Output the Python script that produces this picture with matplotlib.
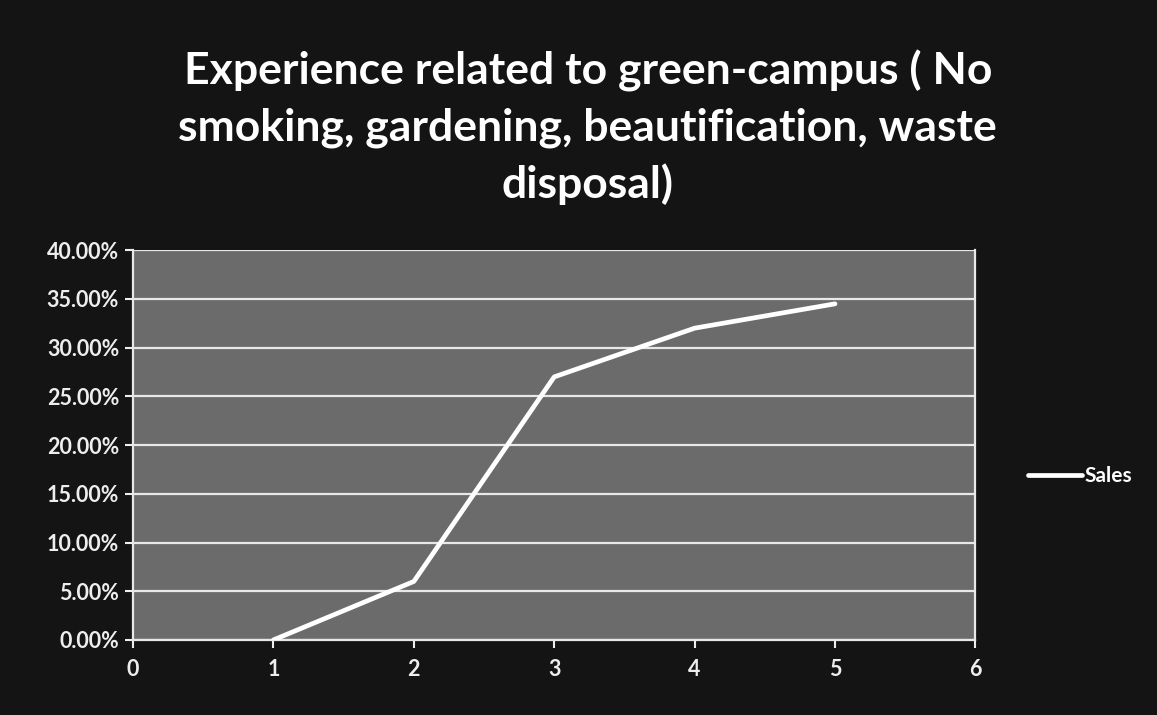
import matplotlib
matplotlib.use("Agg")
import matplotlib.pyplot as plt
from matplotlib.ticker import FuncFormatter

x_values = [1, 2, 3, 4, 5]
sales = [0.0, 0.06, 0.27, 0.32, 0.345]
series_name = "Sales"
title = "Experience related to green-campus ( No\nsmoking, gardening, beautification, waste\ndisposal)"

plt.rcParams['font.family'] = ['Lato', 'DejaVu Sans']

fig = plt.figure(figsize=(11.57, 7.15), dpi=100, facecolor="#141414")
ax = fig.add_axes([0.115, 0.105, 0.728, 0.545])
ax.set_facecolor("#6b6b6b")

ax.plot(x_values, sales, color="white", lw=3.4, solid_capstyle="round", label=series_name, zorder=3)

ax.set_xlim(0, 6)
ax.set_ylim(0, 0.40)
ax.set_xticks(range(0, 7))
ax.set_yticks([i * 0.05 for i in range(9)])
ax.yaxis.set_major_formatter(FuncFormatter(lambda v, p: f"{v*100:.2f}%"))
ax.grid(axis="y", color="#e8e8e8", lw=1.6, zorder=1)
ax.spines["top"].set_visible(False)
for side in ["left", "bottom", "right"]:
    ax.spines[side].set_color("#e8e8e8")
    ax.spines[side].set_linewidth(1.6)
ax.tick_params(colors="#eeeeee", labelsize=15.5, length=6, width=1.5)
for lab in ax.get_xticklabels() + ax.get_yticklabels():
    lab.set_fontweight("bold")
ax.tick_params(axis="x", pad=8)
ax.tick_params(axis="y", pad=4)

fig.text(0.508, 0.93, title, ha="center", va="top", color="white",
         fontsize=32, fontweight="bold", linespacing=1.45)

leg = ax.legend(loc="center left", bbox_to_anchor=(1.04, 0.42), frameon=False,
                handlelength=2.6, handletextpad=0.1, fontsize=15)
for t in leg.get_texts():
    t.set_color("white")
    t.set_fontweight("bold")

fig.savefig("out.png", dpi=100, facecolor=fig.get_facecolor())
